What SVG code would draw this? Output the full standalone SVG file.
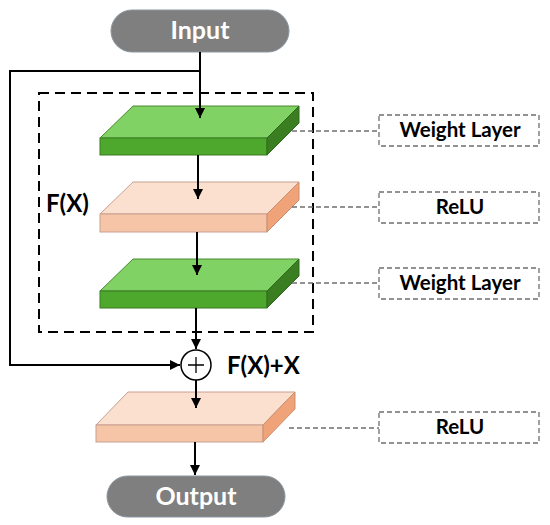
<svg xmlns="http://www.w3.org/2000/svg" width="550" height="525" viewBox="0 0 550 525">
<style>
.pill{fill:#7f7f7f;stroke:#8a96a0;stroke-width:1}
.pt{font-family:Lato,"Open Sans",sans-serif;font-weight:bold;font-size:25px;fill:#ffffff;text-anchor:middle}
.gt{fill:#80d264;stroke:#4a8a30;stroke-width:1}
.gf{fill:#4fa82e;stroke:#3a7a22;stroke-width:1}
.gs{fill:#3b7e22;stroke:#2f6a1c;stroke-width:1}
.rt{fill:#fbdfcf;stroke:#c8a090;stroke-width:1}
.rf{fill:#f6c4a7;stroke:#c8a090;stroke-width:1}
.rs{fill:#f0a378;stroke:#c89070;stroke-width:1}
.lb{fill:#ffffff;stroke:#6f6f6f;stroke-width:1.3;stroke-dasharray:5 3}
.lt{font-family:Lato,"Open Sans",sans-serif;font-weight:bold;font-size:20.5px;fill:#000;text-anchor:middle}
.bt{font-family:Lato,"Open Sans",sans-serif;font-weight:bold;font-size:24px;fill:#000}
.ln{fill:none;stroke:#000;stroke-width:2}
.dl{fill:none;stroke:#6f6f6f;stroke-width:1.3;stroke-dasharray:5 3}
.fx{fill:none;stroke:#000;stroke-width:2;stroke-dasharray:10 6}
</style>
<defs>
<marker id="ah" viewBox="0 0 10 10" refX="10" refY="5" markerWidth="5" markerHeight="5" orient="auto" markerUnits="strokeWidth">
<path d="M0,0 L10,5 L0,10 z" fill="#000"/>
</marker>
</defs>

<g id="fx-box">
<rect class="fx" x="39" y="93" width="274" height="239"/>
<text class="bt" x="46" y="212">F(X)</text>
</g>

<g id="input">
<rect class="pill" x="111" y="10" width="178" height="42" rx="21"/>
<text class="pt" x="200" y="39">Input</text>
</g>

<g id="weight1">
<polygon class="gt" points="100,138 133,106 299,106 267,138"/>
<rect class="gf" x="100" y="138" width="167" height="17"/>
<polygon class="gs" points="267,138 299,106 299,123 267,155"/>
</g>

<g id="relu1">
<polygon class="rt" points="100,214 133,182 299,182 267,214"/>
<rect class="rf" x="100" y="214" width="167" height="18"/>
<polygon class="rs" points="267,214 299,182 299,200 267,232"/>
</g>

<g id="weight2">
<polygon class="gt" points="100,291 133,259 299,259 267,291"/>
<rect class="gf" x="100" y="291" width="167" height="17"/>
<polygon class="gs" points="267,291 299,259 299,276 267,308"/>
</g>

<g id="add">
<circle cx="196" cy="365" r="15" fill="#fff" stroke="#000" stroke-width="1.5"/>
<path d="M188,365 H204 M196,357 V373" stroke="#000" stroke-width="1.3" fill="none"/>
<text class="bt" x="227" y="374">F(X)+X</text>
</g>

<g id="relu2">
<polygon class="rt" points="96,425 128,392 295,392 263,425"/>
<rect class="rf" x="96" y="425" width="167" height="17"/>
<polygon class="rs" points="263,425 295,392 295,409 263,442"/>
</g>

<g id="output">
<rect class="pill" x="107" y="476" width="178" height="41" rx="20.5"/>
<text class="pt" x="196" y="505">Output</text>
</g>

<g id="label-weight1">
<rect class="lb" x="379" y="115" width="160" height="31"/>
<text class="lt" x="460" y="137">Weight Layer</text>
</g>
<g id="label-relu1">
<rect class="lb" x="379" y="192" width="160" height="31"/>
<text class="lt" x="460" y="214">ReLU</text>
</g>
<g id="label-weight2">
<rect class="lb" x="379" y="268" width="160" height="31"/>
<text class="lt" x="460" y="290">Weight Layer</text>
</g>
<g id="label-relu2">
<rect class="lb" x="379" y="412" width="160" height="31"/>
<text class="lt" x="460" y="434">ReLU</text>
</g>

<g id="connectors">
<path class="ln" d="M200,52 V118" marker-end="url(#ah)"/>
<path class="ln" d="M200,71 H10 V365 H180" marker-end="url(#ah)"/>
<path class="ln" d="M198,155 V199" marker-end="url(#ah)"/>
<path class="ln" d="M197,232 V275" marker-end="url(#ah)"/>
<path class="ln" d="M196,308 V349" marker-end="url(#ah)"/>
<path class="ln" d="M196,380 V408" marker-end="url(#ah)"/>
<path class="ln" d="M195,442 V475" marker-end="url(#ah)"/>
<path class="dl" d="M292,131 H379"/>
<path class="dl" d="M292,207 H379"/>
<path class="dl" d="M292,283 H379"/>
<path class="dl" d="M289,428 H379"/>
</g>
</svg>
